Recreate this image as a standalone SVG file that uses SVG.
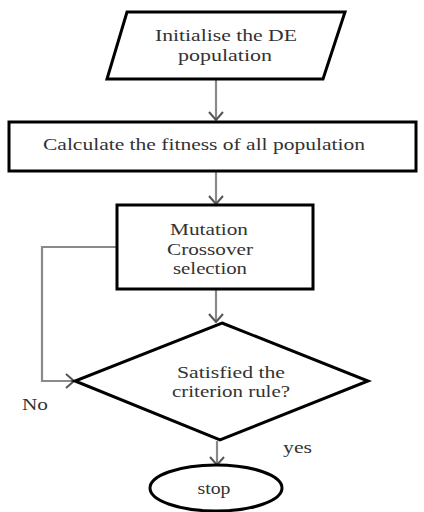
<svg xmlns="http://www.w3.org/2000/svg" width="424" height="512" viewBox="0 0 424 512">
<style>
.shape{fill:#fff;stroke:#000;stroke-width:3}
.conn{fill:none;stroke:#8a8a8a;stroke-width:2.2}
.t{font-family:"Liberation Serif","Times New Roman",serif;font-size:16px;fill:#333;text-anchor:middle}
.tl{font-family:"Liberation Serif","Times New Roman",serif;font-size:16px;fill:#333}
</style>
<defs>
<marker id="ah" markerUnits="userSpaceOnUse" markerWidth="16" markerHeight="16" viewBox="0 0 16 16" refX="10" refY="8" orient="auto">
<path d="M2,1 L10,8 L2,15" fill="none" stroke="#555" stroke-width="2"/>
</marker>
</defs>
<rect width="424" height="512" fill="#fff"/>
<g id="connectors">
<line class="conn" x1="216" y1="80" x2="216" y2="120" marker-end="url(#ah)"/>
<line class="conn" x1="216" y1="172" x2="216" y2="204" marker-end="url(#ah)"/>
<line class="conn" x1="216" y1="290" x2="216" y2="322" marker-end="url(#ah)"/>
<polyline class="conn" points="117,247 42,247 42,381 74,381" marker-end="url(#ah)"/>
<line class="conn" x1="217" y1="441" x2="217" y2="465" marker-end="url(#ah)"/>
<text class="tl" x="22" y="410" textLength="26" lengthAdjust="spacingAndGlyphs">No</text>
<text class="tl" x="283" y="453" textLength="29" lengthAdjust="spacingAndGlyphs">yes</text>
</g>
<g id="init">
<polygon class="shape" points="127,12 345,12 323,79 107,79" stroke-width="2.6"/>
<text class="t" x="226" y="41" textLength="142" lengthAdjust="spacingAndGlyphs">Initialise the DE</text>
<text class="t" x="225" y="61" textLength="94" lengthAdjust="spacingAndGlyphs">population</text>
</g>
<g id="fitness">
<rect class="shape" x="9" y="122" width="407" height="49"/>
<text class="tl" x="43" y="150" textLength="322" lengthAdjust="spacingAndGlyphs">Calculate the fitness of all population</text>
</g>
<g id="ops">
<rect class="shape" x="117" y="205" width="196" height="84"/>
<text class="t" x="209" y="235" textLength="78" lengthAdjust="spacingAndGlyphs">Mutation</text>
<text class="t" x="210" y="255" textLength="86" lengthAdjust="spacingAndGlyphs">Crossover</text>
<text class="t" x="210" y="274" textLength="74" lengthAdjust="spacingAndGlyphs">selection</text>
</g>
<g id="decision">
<polygon class="shape" points="222,323 368,381 220,440 75,381" stroke-width="2.6"/>
<text class="t" x="231" y="378" textLength="108" lengthAdjust="spacingAndGlyphs">Satisfied the</text>
<text class="t" x="231" y="397" textLength="118" lengthAdjust="spacingAndGlyphs">criterion rule?</text>
</g>
<g id="stop">
<ellipse class="shape" cx="216" cy="488" rx="66" ry="23"/>
<text class="t" x="214" y="494" textLength="33" lengthAdjust="spacingAndGlyphs">stop</text>
</g>
</svg>
